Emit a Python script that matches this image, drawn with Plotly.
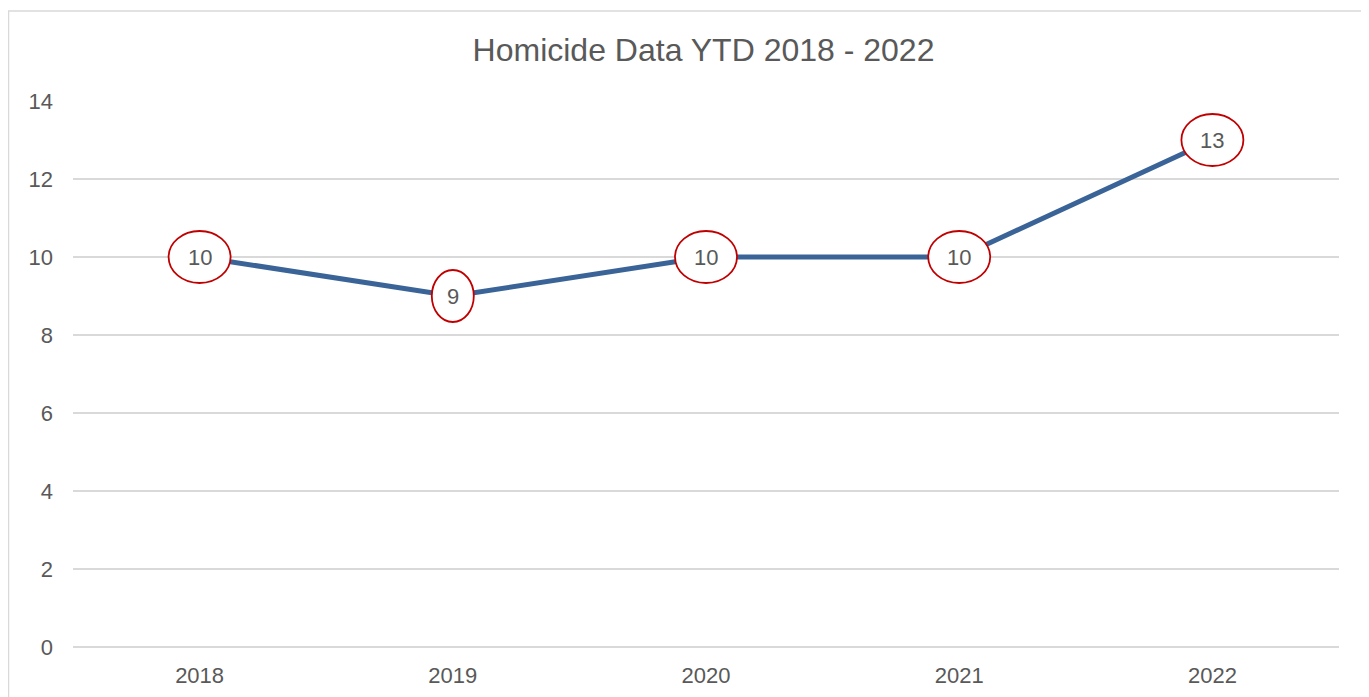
import plotly.graph_objects as go

years = ["2018", "2019", "2020", "2021", "2022"]
homicides = [10, 9, 10, 10, 13]
y_ticks = [0, 2, 4, 6, 8, 10, 12, 14]
title_text = "Homicide Data YTD 2018 - 2022"

# page has an 8px body margin; figure is sized so it fills the rest of the window
W, H = 1361, 689
L, R, T, B = 65, 30, 93, 50

FONT = "Liberation Sans, Arial, sans-serif"
GREY = "#595959"

fig = go.Figure()
fig.add_trace(go.Scatter(
    x=years, y=homicides, mode="lines",
    line=dict(color="#3A6497", width=5),
    hoverinfo="x+y", showlegend=False,
))

shapes = []
annotations = []
for i, (yr, v) in enumerate(zip(years, homicides)):
    label = str(v)
    hw = 31 if len(label) > 1 else 21
    hh = 26
    shapes.append(dict(
        type="circle", xref="x", yref="y",
        xsizemode="pixel", ysizemode="pixel",
        xanchor=i, yanchor=v,
        x0=-hw, x1=hw, y0=-hh, y1=hh,
        line=dict(color="#C00000", width=1.8),
        fillcolor="white", layer="above",
    ))
    annotations.append(dict(
        x=i, y=v, xref="x", yref="y", text=label, showarrow=False,
        font=dict(family=FONT, size=22, color=GREY),
    ))

pw = W - L - R
ph = H - T - B
shapes.append(dict(
    type="rect", xref="paper", yref="paper",
    x0=(0.5 - L) / pw, x1=(1359 - L) / pw,
    y0=-0.3, y1=(H - B - 3) / ph,
    line=dict(color="#D9D9D9", width=1.5), fillcolor="rgba(0,0,0,0)",
    layer="below",
))

fig.update_layout(
    width=W, height=H,
    margin=dict(l=L, r=R, t=T, b=B, autoexpand=False),
    paper_bgcolor="white", plot_bgcolor="white",
    title=dict(text=title_text, xref="container", x=(703.5 - 8) / W, xanchor="center",
               y=1 - 42 / H, yanchor="middle",
               font=dict(family=FONT, size=32, color=GREY)),
    font=dict(family=FONT, size=22, color=GREY),
    xaxis=dict(type="category", range=[-0.5, 4.5], showgrid=False, showline=False,
               zeroline=False, ticks="", ticklabelstandoff=13, automargin=False,
               tickfont=dict(size=22, color=GREY)),
    yaxis=dict(range=[0, 14], tickvals=y_ticks, showgrid=True, gridcolor="#D9D9D9",
               gridwidth=1.5, zeroline=True, zerolinecolor="#D9D9D9", zerolinewidth=1.5,
               showline=False, ticks="", automargin=False,
               ticklabelstandoff=19, tickfont=dict(size=22, color=GREY)),
    shapes=shapes, annotations=annotations,
)

fig.write_html("out.html")
